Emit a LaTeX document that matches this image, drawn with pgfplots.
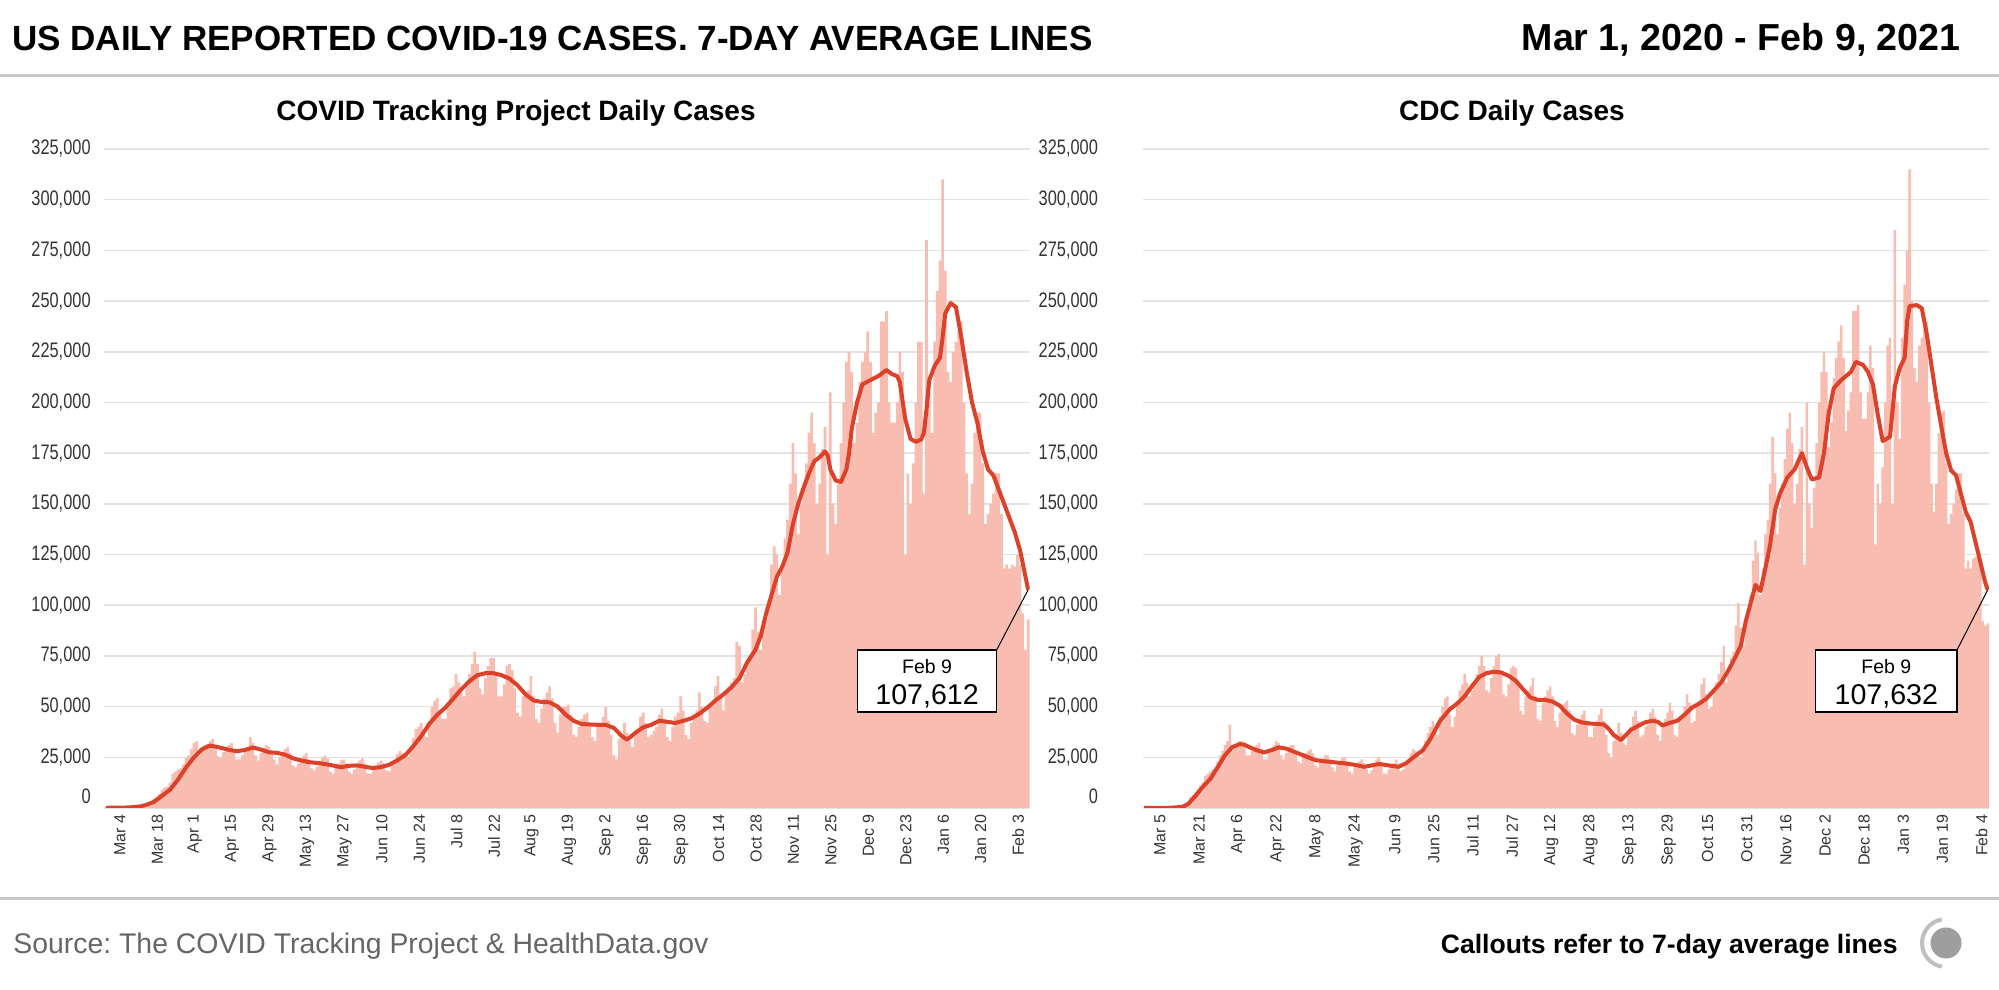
\documentclass[border=0pt]{standalone}
\usepackage{pgfplots}
\pgfplotsset{compat=1.18}
\usepackage{fontspec}
\setmainfont{Liberation Sans}
\newfontfamily\tickfont{Liberation Sans}[FakeStretch=0.78]
\frenchspacing
\definecolor{barc}{HTML}{F9BCB1}
\definecolor{avgc}{HTML}{DD4129}
\definecolor{gridc}{HTML}{E3E3E3}
\definecolor{rulec}{HTML}{C8C8C8}
\definecolor{srcc}{HTML}{666666}
\definecolor{tickc}{HTML}{333333}
\pgfplotsset{
  covid/.style={
    scale only axis, height=329.5pt,
    xmin=-0.5, xmax=345.5, ymin=0, ymax=325,
    axis line style={draw=none},
    ytick={25,50,...,325},
    yticklabels={{25,000},{50,000},{75,000},{100,000},{125,000},{150,000},{175,000},{200,000},{225,000},{250,000},{275,000},{300,000},{325,000}},
    extra y ticks={0}, extra y tick labels={0},
    extra y tick style={yticklabel style={yshift=6pt}},
    ymajorgrids, grid style={color=gridc, line width=0.75pt},
    major tick length=0pt,
    yticklabel style={font=\tickfont\fontsize{10.5}{12}\selectfont, text=tickc},
    xticklabel style={font=\fontsize{8}{9.6}\selectfont, text=tickc, rotate=90, anchor=east, yshift=-3pt},
  }
}
\begin{document}
\begin{tikzpicture}[x=0.5pt,y=0.5pt]
\useasboundingbox (0,0) rectangle (1999,990);
\node[anchor=base west, inner sep=0, font=\bfseries\fontsize{17.5}{20}\selectfont] at (12,939.5) {US DAILY REPORTED COVID-19 CASES. 7-DAY AVERAGE LINES};
\node[anchor=base east, inner sep=0, font=\bfseries\fontsize{18.8}{22}\selectfont] at (1961,939.5) {Mar 1, 2020 - Feb 9, 2021};
\draw[rulec, line width=1.5pt] (0,914) -- (1999,914);
\node[anchor=base, inner sep=0, font=\bfseries\fontsize{14}{16}\selectfont] at (516,869) {COVID Tracking Project Daily Cases};
\node[anchor=base, inner sep=0, font=\bfseries\fontsize{14}{16}\selectfont] at (1512,869) {CDC Daily Cases};
\draw[rulec, line width=1.5pt] (0,91) -- (1999,91);
\node[anchor=base west, inner sep=0, text=srcc, font=\fontsize{14.2}{16}\selectfont] at (13,36.5) {Source: The COVID Tracking Project \& HealthData.gov};
\node[anchor=base east, inner sep=0, font=\bfseries\fontsize{13.3}{16}\selectfont] at (1898,36.5) {Callouts refer to 7-day average lines};
\fill[black!38] (1946,47) circle (15.5);
\draw[black!25, line width=2pt] (1946,47) ++(100:24) arc (100:260:24);

% ---------------- left axis ----------------
\begin{axis}[covid, at={(52.25pt,91pt)}, anchor=south west, width=462.5pt,
  yticklabel style={xshift=-3.4pt},
  xtick={3,17,31,45,59,73,87,101,115,129,143,157,171,185,199,213,227,241,255,269,283,297,311,325,339},
  xticklabels={Mar 4,Mar 18,Apr 1,Apr 15,Apr 29,May 13,May 27,Jun 10,Jun 24,Jul 8,Jul 22,Aug 5,Aug 19,Sep 2,Sep 16,Sep 30,Oct 14,Oct 28,Nov 11,Nov 25,Dec 9,Dec 23,Jan 6,Jan 20,Feb 3}]
\addplot[ybar, bar width=1, fill=barc, draw=none] coordinates {
(0,0.05)(1,0.05)(2,0.1)(3,0.1)(4,0.15)(5,0.2)(6,0.25)
(7,0.2)(8,0.25)(9,0.3)(10,0.45)(11,0.5)(12,0.7)(13,0.8)
(14,1.0)(15,1.3)(16,1.9)(17,2.6)(18,4.6)(19,5.5)(20,6.8)
(21,9)(22,10)(23,10.5)(24,12.5)(25,17)(26,18)(27,19)
(28,19.5)(29,21.5)(30,25)(31,26)(32,29)(33,32)(34,33)
(35,26)(36,29)(37,31)(38,31.5)(39,33)(40,34)(41,30.5)
(42,25.5)(43,25)(44,27.5)(45,30)(46,31)(47,32)(48,29)
(49,24)(50,24)(51,26)(52,29)(53,30)(54,35)(55,32)
(56,26)(57,23.5)(58,27)(59,29.5)(60,31)(61,30)(62,28)
(63,24)(64,21.5)(65,25)(66,27)(67,29)(68,30)(69,27)
(70,21)(71,20)(72,22)(73,24)(74,26)(75,27)(76,24)
(77,19.5)(78,18.5)(79,20.5)(80,22.5)(81,25)(82,26)(83,24.5)
(84,18)(85,17)(86,20)(87,22)(88,23.5)(89,24)(90,22)
(91,18)(92,17)(93,19)(94,21.5)(95,23.5)(96,24.5)(97,22)
(98,17)(99,17)(100,18.5)(101,21)(102,22.5)(103,23.5)(104,22)
(105,18.5)(106,18)(107,21)(108,23.5)(109,26.5)(110,28)(111,27)
(112,25)(113,25.5)(114,30)(115,34.5)(116,39)(117,40)(118,42)
(119,36)(120,35)(121,43)(122,50)(123,53)(124,54)(125,46)
(126,44)(127,44)(128,50)(129,59)(130,60)(131,66)(132,62)
(133,57)(134,55)(135,62)(136,66)(137,71)(138,77)(139,71)
(140,59)(141,56)(142,64)(143,70)(144,74)(145,74)(146,67)
(147,55)(148,55)(149,61)(150,70)(151,71)(152,68)(153,59)
(154,47)(155,45)(156,55)(157,57)(158,58)(159,65)(160,55)
(161,44)(162,42)(163,49)(164,54)(165,57)(166,60)(167,54)
(168,42)(169,37)(170,46)(171,50)(172,50)(173,51)(174,46)
(175,36)(176,35)(177,40)(178,44)(179,46)(180,47)(181,42)
(182,35)(183,33)(184,40)(185,42)(186,45)(187,50)(188,43)
(189,36)(190,26)(191,24)(192,34)(193,36)(194,42)(195,37)
(196,33)(197,30)(198,38)(199,39)(200,45)(201,47)(202,42)
(203,35)(204,36)(205,38)(206,40)(207,46)(208,49)(209,44)
(210,35)(211,33)(212,40)(213,45)(214,47)(215,55)(216,48)
(217,36)(218,34)(219,42)(220,44)(221,48)(222,57)(223,50)
(224,43)(225,42)(226,50)(227,52)(228,60)(229,65)(230,55)
(231,48)(232,58)(233,60)(234,62)(235,64)(236,82)(237,80)
(238,62)(239,66)(240,72)(241,75)(242,88)(243,99)(244,87)
(245,78)(246,90)(247,93)(248,103)(249,120)(250,129)(251,125)
(252,105)(253,118)(254,133)(255,142)(256,160)(257,180)(258,165)
(259,135)(260,150)(261,158)(262,170)(263,185)(264,195)(265,180)
(266,150)(267,160)(268,177)(269,188)(270,125)(271,205)(272,150)
(273,140)(274,160)(275,180)(276,200)(277,220)(278,225)(279,215)
(280,180)(281,190)(282,210)(283,220)(284,225)(285,235)(286,220)
(287,185)(288,195)(289,200)(290,240)(291,240)(292,245)(293,200)
(294,190)(295,190)(296,200)(297,225)(298,215)(299,125)(300,165)
(301,150)(302,170)(303,200)(304,230)(305,230)(306,155)(307,280)
(308,205)(309,185)(310,230)(311,255)(312,270)(313,310)(314,265)
(315,215)(316,210)(317,225)(318,230)(319,235)(320,240)(321,200)
(322,165)(323,145)(324,160)(325,185)(326,195)(327,195)(328,170)
(329,140)(330,145)(331,150)(332,155)(333,165)(334,165)(335,145)
(336,118)(337,120)(338,118)(339,120)(340,119)(341,125)(342,120)
(343,96)(344,78)(345,93)
};
\addplot[avgc, line width=2pt, line join=round] coordinates {
(0,0.1)(7,0.2)(10,0.4)(13,0.8)(15,1.5)(18,3)(21,6)(24,9)(27,14)(30,20)(33,25)(36,29)(39,30.8)
(42,30)(46,28.7)(49,28)(52,28.6)(55,29.8)(58,28.8)(61,27.5)(64,27.2)(67,26.3)(70,24.5)(72,23.8)
(76,22.6)(80,22.1)(84,21.2)(88,20.1)(91,20.8)(94,21)(97,20.3)(100,19.7)(103,20.2)(106,21.3)
(109,23.5)(112,26)(115,30.5)(118,35.5)(121,41.5)(124,46)(127,49.5)(130,54)(133,58.6)(136,62.5)
(139,65.5)(142,66.5)(145,66.5)(148,65.5)(151,63.8)(154,60.5)(157,56)(160,53)(163,52.3)(166,52.1)
(169,50)(172,46)(175,43)(178,41.4)(181,41.2)(184,41)(187,41)(190,39.5)(193,35.5)(195,33.7)
(198,37)(201,39.8)(204,41)(207,43)(210,42.5)(213,41.9)(216,43)(219,44.2)(222,46.5)(225,49.5)
(228,53)(231,56)(234,59.5)(237,64)(240,72)(243,78)(245,85)(247,96)(249,105)(251,114)(253,119)
(255,126)(257,140)(259,150)(261,158)(263,165)(265,171)(267,173)(269,175.8)(270,174)(271,167)
(273,161.5)(275,160.8)(277,167)(278,175)(279,187)(281,200)(283,209)(286,211)(289,213)(292,216)
(294,214)(296,213)(297,210)(299,192)(301,182)(303,180.6)(305,181.7)(306,185)(307,197)(308,211)
(310,218)(312,222)(313,232)(314,244)(316,249)(318,247)(320,232)(322,215)(324,200)(326,190)
(328,176)(330,167)(332,164)(334,157)(336,150)(338,143)(340,136)(342,127)(344,114)(345,107.612)
};
\draw[black, line width=0.5pt] (axis cs:345,107.612) -- (axis cs:333.2,77.9);
\draw[black, line width=0.75pt, fill=white] (axis cs:281.2,47.3) rectangle (axis cs:333.2,77.9);
\node[anchor=base, inner sep=0, font=\fontsize{9.75}{10}\selectfont] at (axis cs:307.2,66.4) {Feb 9};
\node[anchor=base, inner sep=0, font=\fontsize{14.3}{15}\selectfont] at (axis cs:307.2,50.8) {107,612};
\end{axis}

% ---------------- right axis ----------------
\begin{axis}[covid, at={(571.5pt,91pt)}, anchor=south west, width=423pt,
  yticklabel style={xshift=-19pt},
  xtick={4,20,36,52,68,84,100,116,132,148,164,180,196,212,228,244,260,276,292,308,324,340},
  xticklabels={Mar 5,Mar 21,Apr 6,Apr 22,May 8,May 24,Jun 9,Jun 25,Jul 11,Jul 27,Aug 12,Aug 28,Sep 13,Sep 29,Oct 15,Oct 31,Nov 16,Dec 2,Dec 18,Jan 3,Jan 19,Feb 4}]
\addplot[ybar, bar width=1, fill=barc, draw=none] coordinates {
(0,0.05)(1,0.05)(2,0.05)(3,0.1)(4,0.1)(5,0.15)(6,0.2)
(7,0.2)(8,0.2)(9,0.25)(10,0.3)(11,0.4)(12,0.5)(13,0.6)
(14,0.8)(15,1.2)(16,1.8)(17,2.8)(18,3.5)(19,5.5)(20,6.5)
(21,8)(22,9.5)(23,11)(24,12.5)(25,16)(26,17)(27,18)
(28,19)(29,20)(30,23)(31,26)(32,28)(33,31)(34,33)
(35,41)(36,28)(37,30)(38,31)(39,33)(40,33)(41,31)
(42,26)(43,26)(44,28)(45,30)(46,31)(47,32)(48,29)
(49,24)(50,24)(51,27)(52,29)(53,31)(54,33)(55,32)
(56,26)(57,24)(58,27)(59,30)(60,31)(61,31)(62,28)
(63,23)(64,22)(65,26)(66,27)(67,28)(68,29)(69,27)
(70,21)(71,20)(72,22.5)(73,24)(74,26)(75,26)(76,24)
(77,20)(78,18)(79,21)(80,23)(81,25)(82,25)(83,23)
(84,18)(85,17)(86,20)(87,22)(88,23)(89,24)(90,22)
(91,19)(92,17)(93,18.5)(94,22)(95,24)(96,25)(97,22.5)
(98,17)(99,17)(100,19)(101,21)(102,22)(103,24)(104,22)
(105,18)(106,19)(107,21)(108,24)(109,27)(110,29)(111,28)
(112,26)(113,25)(114,29)(115,33)(116,37)(117,40)(118,43)
(119,37)(120,36)(121,45)(122,50)(123,54)(124,55)(125,46)
(126,40)(127,45)(128,51)(129,58)(130,61)(131,66)(132,62)
(133,55)(134,58)(135,62)(136,66)(137,70)(138,75)(139,70)
(140,58)(141,57)(142,64)(143,70)(144,75)(145,76)(146,68)
(147,56)(148,55)(149,61)(150,69)(151,70)(152,69)(153,60)
(154,48)(155,46)(156,55)(157,58)(158,60)(159,64)(160,55)
(161,44)(162,43)(163,52)(164,55)(165,58)(166,60)(167,55)
(168,43)(169,40)(170,47)(171,51)(172,52)(173,53)(174,48)
(175,37)(176,36)(177,41)(178,44)(179,46)(180,48)(181,43)
(182,35)(183,35)(184,40)(185,43)(186,46)(187,49)(188,43)
(189,36)(190,27)(191,25)(192,33)(193,36)(194,42)(195,37)
(196,32)(197,31)(198,38)(199,40)(200,45)(201,48)(202,43)
(203,35)(204,36)(205,40)(206,41)(207,47)(208,49)(209,45)
(210,36)(211,33)(212,41)(213,44)(214,47)(215,52)(216,48)
(217,36)(218,35)(219,44)(220,46)(221,50)(222,56)(223,52)
(224,42)(225,43)(226,51)(227,53)(228,61)(229,64)(230,56)
(231,49)(232,50)(233,57)(234,62)(235,66)(236,72)(237,80)
(238,62)(239,66)(240,74)(241,77)(242,90)(243,101)(244,89)
(245,80)(246,92)(247,95)(248,105)(249,122)(250,132)(251,126)
(252,105)(253,118)(254,135)(255,142)(256,160)(257,183)(258,165)
(259,135)(260,148)(261,160)(262,172)(263,187)(264,195)(265,180)
(266,150)(267,160)(268,177)(269,188)(270,120)(271,200)(272,150)
(273,138)(274,158)(275,180)(276,200)(277,215)(278,225)(279,215)
(280,178)(281,190)(282,212)(283,222)(284,230)(285,238)(286,222)
(287,186)(288,196)(289,205)(290,245)(291,245)(292,248)(293,205)
(294,192)(295,192)(296,205)(297,228)(298,217)(299,130)(300,160)
(301,150)(302,168)(303,200)(304,228)(305,232)(306,150)(307,285)
(308,200)(309,182)(310,232)(311,258)(312,275)(313,315)(314,250)
(315,217)(316,210)(317,228)(318,232)(319,238)(320,240)(321,200)
(322,160)(323,146)(324,160)(325,185)(326,195)(327,196)(328,170)
(329,140)(330,145)(331,150)(332,157)(333,165)(334,165)(335,145)
(336,118)(337,122)(338,118)(339,123)(340,124)(341,125)(342,120)
(343,92)(344,90)(345,91)
};
\addplot[avgc, line width=2pt, line join=round] coordinates {
(0,0.05)(10,0.1)(14,0.4)(16,0.7)(18,2)(21,6)(24,10.5)(27,14.3)(30,20)(33,26)(36,30)(39,31.5)
(41,31.2)(43,30)(46,28.5)(49,27.4)(52,28.5)(55,29.9)(58,29.3)(62,27.4)(66,25.5)(70,23.6)(74,23)
(78,22.5)(82,22)(86,21.3)(90,20.3)(93,21)(96,21.7)(100,21)(104,20.3)(107,22)(110,24.9)(114,28.5)
(117,34)(121,43)(125,48.7)(128,51.5)(131,55)(134,60)(137,64.6)(140,66.5)(143,67.2)(146,66.8)
(149,65.2)(152,62.7)(155,58.5)(158,54.5)(161,53.3)(164,53.3)(167,52.5)(170,50.4)(173,46.5)
(176,43.5)(179,42.2)(182,41.7)(185,41.4)(188,41.2)(190,39)(192,36)(195,33.5)(197,36)(199,38.5)
(202,40.5)(205,42.3)(208,43)(210,42.5)(212,40.7)(215,42)(218,43)(221,46)(224,49.5)(227,51.5)
(230,54)(233,58)(236,62)(239,68)(242,75)(244,80)(246,92)(248,101)(250,110)(252,107)(254,118)
(256,130)(258,147)(260,155)(263,163)(266,167)(269,175)(271,168)(273,162)(276,163)(278,175)
(280,195)(282,207)(285,211)(289,215)(291,220)(294,218.5)(296,215)(298,209)(300,194)(302,181)
(305,183)(307,208)(309,217)(311,222)(312,240)(313,247.5)(316,248)(318,246.5)(320,234)(322,218)
(324,202)(326,188)(328,175)(330,166.5)(332,164)(334,155)(336,146)(338,141)(340,131)(342,121)
(344,111)(345,107.632)
};
\draw[black, line width=0.5pt] (axis cs:345,107.632) -- (axis cs:332.4,77.9);
\draw[black, line width=0.75pt, fill=white] (axis cs:274.6,47.3) rectangle (axis cs:332.4,77.9);
\node[anchor=base, inner sep=0, font=\fontsize{9.75}{10}\selectfont] at (axis cs:303.5,66.4) {Feb 9};
\node[anchor=base, inner sep=0, font=\fontsize{14.3}{15}\selectfont] at (axis cs:303.5,50.8) {107,632};
\end{axis}
\end{tikzpicture}
\end{document}
